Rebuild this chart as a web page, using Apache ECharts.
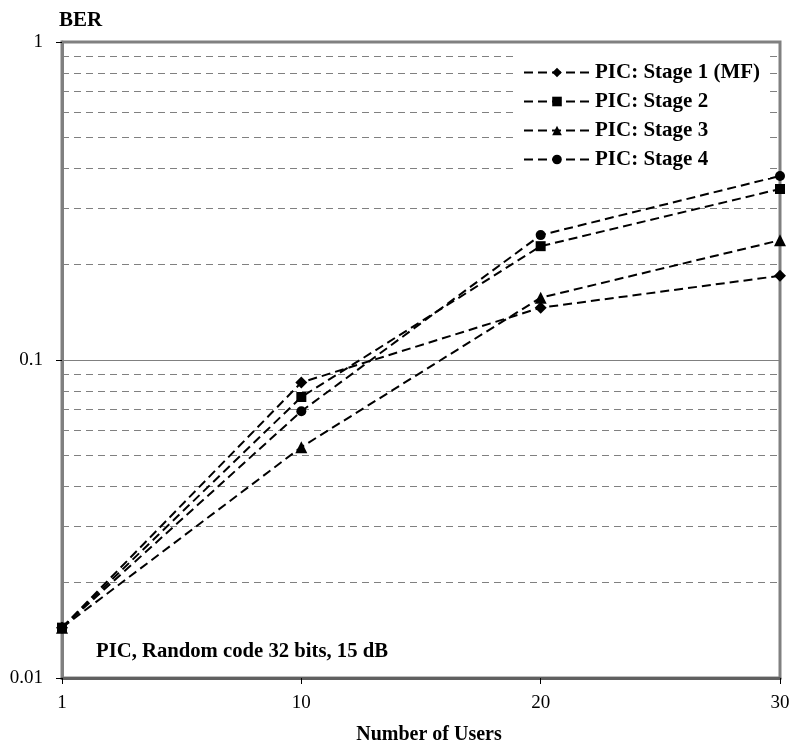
<!DOCTYPE html>
<html>
<head>
<meta charset="utf-8">
<script src="https://cdn.jsdelivr.net/npm/echarts@6/dist/echarts.min.js"></script>
<style>
html,body{margin:0;padding:0;background:#fff;}
#chart{width:792px;height:745px;}
</style>
</head>
<body>
<div id="chart"></div>
<script>
var categories = ['1', '10', '20', '30'];
var stage1 = [0.0144, 0.085, 0.146, 0.184];
var stage2 = [0.0144, 0.0765, 0.228, 0.345];
var stage3 = [0.0144, 0.0532, 0.157, 0.238];
var stage4 = [0.0144, 0.069, 0.247, 0.379];
var seriesNames = ['PIC: Stage 1 (MF)', 'PIC: Stage 2', 'PIC: Stage 3', 'PIC: Stage 4'];
var minorGridValues = [0.02, 0.03, 0.04, 0.05, 0.06, 0.07, 0.08, 0.09,
                       0.2, 0.3, 0.4, 0.5, 0.6, 0.7, 0.8, 0.9];
var yTickLabels = {'0.01': '0.01', '0.1': '0.1', '1': '1'};
var annotation = 'PIC, Random code 32 bits, 15 dB';

var FONT = '"Liberation Serif", "Times New Roman", serif';
var dash = [9, 5];

function mkSeries(name, data, symbol, size, extra) {
  var s = {
    name: name,
    type: 'line',
    data: data,
    symbol: symbol,
    symbolSize: size,
    showSymbol: true,
    itemStyle: { color: '#000' },
    lineStyle: { color: '#000', width: 2, type: dash },
    z: 3
  };
  if (extra) { for (var k in extra) s[k] = extra[k]; }
  return s;
}

var chart = echarts.init(document.getElementById('chart'), null, { renderer: 'canvas' });
chart.setOption({
  animation: false,
  backgroundColor: '#fff',
  textStyle: { fontFamily: FONT },
  grid: {
    left: 62, right: 12, top: 42, bottom: 67,
    containLabel: false,
    outerBoundsMode: 'none',
    show: true,
    borderColor: '#808080',
    borderWidth: 3,
    backgroundColor: 'transparent'
  },
  legend: {
    orient: 'vertical',
    left: 513,
    top: 52,
    padding: [10, 10, 8, 10],
    backgroundColor: '#fff',
    itemWidth: 66,
    itemHeight: 12,
    itemGap: 8,
    data: seriesNames,
    textStyle: { fontFamily: FONT, fontSize: 21, fontWeight: 'bold', color: '#000' }
  },
  xAxis: {
    type: 'category',
    data: categories,
    boundaryGap: false,
    name: 'Number of Users',
    nameLocation: 'middle',
    nameGap: 47,
    nameTextStyle: { fontFamily: FONT, fontSize: 20, fontWeight: 'bold', color: '#000', padding: [0, 0, 0, 16] },
    axisLine: { show: true, lineStyle: { color: '#606060', width: 3 } },
    axisTick: { show: true, alignWithLabel: true, length: 6, inside: false, lineStyle: { color: '#000', width: 1 } },
    axisLabel: { fontFamily: FONT, fontSize: 19, color: '#000', margin: 16 },
    splitLine: { show: false }
  },
  yAxis: {
    type: 'log',
    logBase: 10,
    min: 0.01,
    max: 1,
    name: 'BER',
    nameLocation: 'end',
    nameGap: 11,
    nameTextStyle: { fontFamily: FONT, fontSize: 21, fontWeight: 'bold', color: '#000', align: 'left', padding: [0, 0, 0, -3] },
    axisLine: { show: true, lineStyle: { color: '#808080', width: 3 } },
    axisTick: { show: true, length: 6, inside: false, lineStyle: { color: '#000', width: 1 } },
    axisLabel: {
      fontFamily: FONT, fontSize: 19, color: '#000', margin: 19,
      formatter: function (v) { var key = String(+v.toPrecision(3)); return yTickLabels[key] || key; }
    },
    splitLine: { show: true, lineStyle: { color: '#808080', width: 1, type: 'solid' } },
    minorTick: { show: false },
    minorSplitLine: { show: false }
  },
  graphic: [{
    type: 'text',
    left: 96,
    top: 641,
    style: {
      text: annotation,
      font: 'bold 20.7px ' + FONT,
      fill: '#000'
    },
    z: 10
  }],
  series: [
    mkSeries(seriesNames[0], stage1, 'diamond', 12, {
      markLine: {
        silent: true,
        symbol: ['none', 'none'],
        label: { show: false },
        lineStyle: { color: '#808080', width: 1, type: [7, 5] },
        data: minorGridValues.map(function (v) { return { yAxis: v }; }),
        z: 1
      }
    }),
    mkSeries(seriesNames[1], stage2, 'rect', 10),
    mkSeries(seriesNames[2], stage3, 'triangle', 12),
    mkSeries(seriesNames[3], stage4, 'circle', 10)
  ]
});
</script>
</body>
</html>
